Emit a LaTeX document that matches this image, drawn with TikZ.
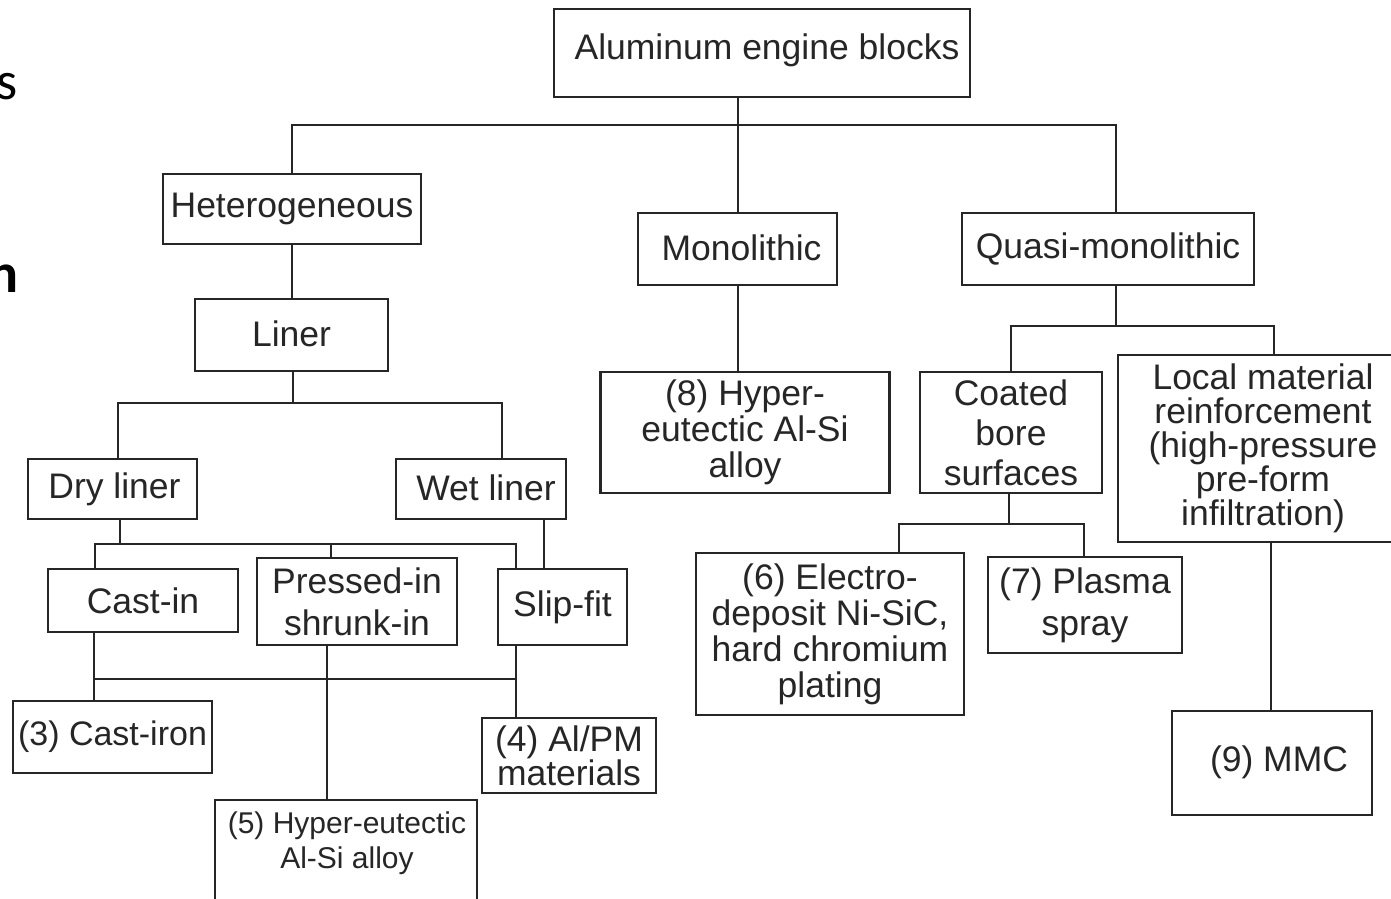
\documentclass[tikz,border=0pt]{standalone}
\usepackage{fontspec}
\setmainfont{Liberation Sans}
\newfontfamily\fragfont{Carlito}
\definecolor{ink}{HTML}{262626}
\begin{document}
\begin{tikzpicture}[x=1pt,y=-1pt,
  box/.style={draw=ink, line width=2.8pt, inner sep=0pt, align=center, text=ink,
    font=\fontsize{35.5}{36}\selectfont},
  conn/.style={draw=ink, line width=2.6pt}]
\clip (0,0) rectangle (1391,898);
\fill[white] (0,0) rectangle (1391,898);
% fragments at the left edge
\node[anchor=base east, inner sep=0pt, font=\fragfont\fontsize{54}{54}\selectfont] (fragS) at (18,99) {s};
\node[anchor=base east, inner sep=0pt, font=\fragfont\bfseries\fontsize{56}{56}\selectfont] (fragN) at (19,292) {n};
% boxes
\node[box, minimum width=416, minimum height=88] (top) at (762,53) {\raisebox{12pt}{\hspace{10pt}Aluminum engine blocks}};
\node[box, minimum width=258, minimum height=70] (het) at (292,209) {\raisebox{-2pt}{Heterogeneous}};
\node[box, minimum width=199, minimum height=72] (mono) at (737.5,249) {\raisebox{3pt}{\hspace{8pt}Monolithic}};
\node[box, minimum width=292, minimum height=72] (quasi) at (1108,249) {\raisebox{6pt}{Quasi-monolithic}};
\node[box, minimum width=193, minimum height=72] (liner) at (291.5,335) {\raisebox{3pt}{Liner}};
\node[box, minimum width=169, minimum height=60] (dry) at (112.5,489) {\raisebox{-1pt}{\hspace{4pt}Dry liner}};
\node[box, minimum width=170, minimum height=60] (wet) at (481,489) {\raisebox{2pt}{\hspace{10pt}Wet liner}};
\node[box, minimum width=190, minimum height=63] (castin) at (143,600.5) {Cast-in};
\node[box, minimum width=200, minimum height=87, font=\fontsize{35.5}{42}\selectfont] (pressed) at (357,601.5) {Pressed-in\\shrunk-in};
\node[box, minimum width=129, minimum height=76] (slip) at (562.5,607) {\raisebox{3pt}{Slip-fit}};
\node[box, minimum width=199, minimum height=72, font=\fontsize{34}{36}\selectfont] (iron) at (112.5,737) {(3) Cast-iron};
\node[box, minimum width=174, minimum height=75, font=\fontsize{35.5}{32}\selectfont] (alpm) at (569,755.5) {(4) Al/PM\\materials};
\node[box, minimum width=262, minimum height=130] (m5) at (346,865) {};
\node[text=ink, font=\fontsize{30}{35}\selectfont, align=center, inner sep=0pt] (t5) at (347,843.5) {(5) Hyper-eutectic\\Al-Si alloy};
\node[box, minimum width=289, minimum height=121] (m8) at (745,432.5) {(8) Hyper-\\eutectic Al-Si\\alloy};
\node[box, minimum width=182, minimum height=121, font=\fontsize{35.5}{40}\selectfont] (coated) at (1011,432.5) {Coated\\bore\\surfaces};
\node[box, minimum width=280, minimum height=187, font=\fontsize{35.5}{34}\selectfont] (local) at (1258,448.5) {\hspace{10pt}Local material\\\hspace{10pt}reinforcement\\\hspace{10pt}(high-pressure\\\hspace{10pt}pre-form\\\hspace{10pt}infiltration)};
\node[box, minimum width=268, minimum height=162] (m6) at (830,634) {(6) Electro-\\deposit Ni-SiC,\\hard chromium\\plating};
\node[box, minimum width=194, minimum height=96, font=\fontsize{35.5}{42}\selectfont] (m7) at (1085,605) {(7) Plasma\\spray};
\node[box, minimum width=200, minimum height=104] (m9) at (1272,763) {\raisebox{8pt}{\hspace{14pt}(9) MMC}};
% junctions
\coordinate (j0) at (738,125);
\coordinate (j1) at (293,403);
\coordinate (j2) at (120,544);
\coordinate (j3L) at (94,679);
\coordinate (j3R) at (516,679);
\coordinate (j4) at (1116,326);
\coordinate (j5) at (1009,524);
% connectors
\draw[conn] (top.south -| j0) -- (mono.north -| j0);
\draw[conn] (het.north) |- (j0) -| ([xshift=8pt]quasi.north);
\draw[conn] (het.south) -- (het.south |- liner.north);
\draw[conn] (liner.south -| j1) -- (j1);
\draw[conn] ([xshift=5.5pt]dry.north) |- (j1) -| ([xshift=21pt]wet.north);
\draw[conn] (dry.south -| j2) -- (j2);
\draw[conn] ([xshift=-48pt]castin.north) |- (j2) -| ([xshift=-46.5pt]slip.north);
\draw[conn] ([xshift=-26pt]pressed.north) -- ([xshift=-26pt]pressed.north |- j2);
\draw[conn] ([xshift=63pt]wet.south) -- ([xshift=63pt]wet.south |- slip.north);
\draw[conn] (castin.south -| j3L) -- (iron.north -| j3L);
\draw[conn] (slip.south -| j3R) -- (alpm.north -| j3R);
\draw[conn] (j3L) -- (j3R);
\draw[conn] ([xshift=-30pt]pressed.south) -- ([xshift=-30pt]pressed.south |- m5.north);
\draw[conn] (mono.south -| j0) -- (m8.north -| j0);
\draw[conn] (quasi.south -| j4) -- (j4);
\draw[conn] (coated.north) |- (j4) -| ([xshift=16pt]local.north);
\draw[conn] (coated.south -| j5) -- (j5);
\draw[conn] ([xshift=69pt]m6.north) |- (j5) -| ([xshift=-1pt]m7.north);
\draw[conn] ([xshift=13pt]local.south) -- ([xshift=13pt]local.south |- m9.north);
\end{tikzpicture}
\end{document}
